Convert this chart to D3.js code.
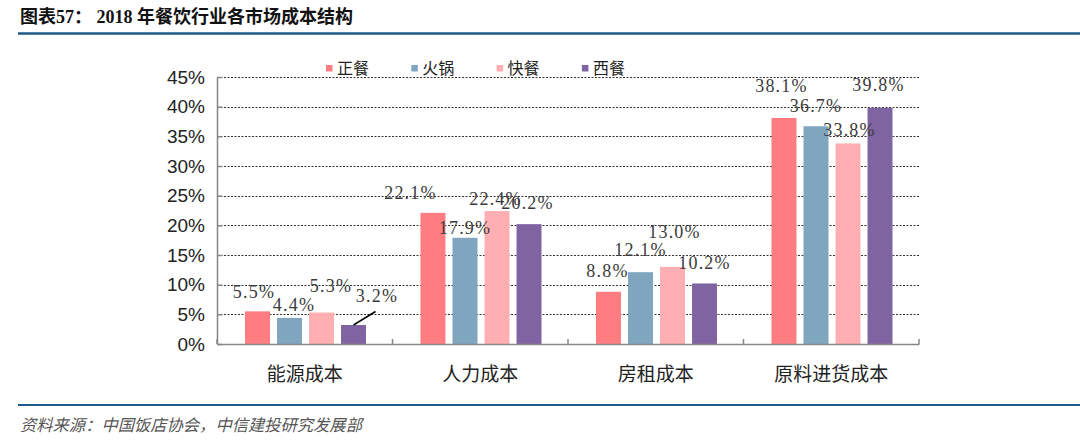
<!DOCTYPE html>
<html><head><meta charset="utf-8">
<script src="https://cdn.jsdelivr.net/npm/d3@7"></script>
<style>body{margin:0;background:#fff}svg{display:block}</style>
</head><body>
<svg id="c" width="1080" height="447"></svg>
<script>
const categories = ["能源成本", "人力成本", "房租成本", "原料进货成本"];
const seriesNames = ["正餐", "火锅", "快餐", "西餐"];
const valZhengcan = [5.5, 22.1, 8.8, 38.1];
const valHuoguo = [4.4, 17.9, 12.1, 36.7];
const valKuaican = [5.3, 22.4, 13.0, 33.8];
const valXican = [3.2, 20.2, 10.2, 39.8];
const yTicks = [0, 5, 10, 15, 20, 25, 30, 35, 40, 45];
const colors = ["#FF7C80", "#7FA5BF", "#FFAFB1", "#8064A2"];
// label offsets [dx, dy] relative to bar top centre (manual placements in the original)
const labelOffsets = [
  [[-3.5,-20],[-22.5,-20],[-1,-21],[-2.5,-32]],
  [[4.5,-13],[0,-10],[0,-23],[0,-21]],
  [[9.5,-27.5],[-1.5,-13],[2,-35],[1.5,-13.5]],
  [[23.5,-29],[-1.5,-22],[0,-21],[-1.5,-23]]
];
const seriesVals = [valZhengcan, valHuoguo, valKuaican, valXican];

const svg = d3.select("#c");
const L = 217, R = 919, T = 77, B = 344;

// title
svg.append("text").attr("x", 20).attr("y", 23)
  .attr("font-family", "'Liberation Serif','Noto Sans CJK SC',serif")
  .attr("font-weight", 700).attr("font-size", 18).attr("fill", "#111")
  .text("图表57： 2018 年餐饮行业各市场成本结构");
svg.append("line").attr("x1", 18).attr("x2", 1080).attr("y1", 33.5).attr("y2", 33.5)
  .attr("stroke", "#1F5A89").attr("stroke-width", 2.5);
svg.append("line").attr("x1", 18).attr("x2", 1080).attr("y1", 405).attr("y2", 405)
  .attr("stroke", "#1F5A89").attr("stroke-width", 2);
svg.append("text").attr("x", 20).attr("y", 431)
  .attr("font-family", "'Noto Sans CJK SC',sans-serif").attr("font-style", "italic")
  .attr("font-size", 16.3).attr("fill", "#555")
  .text("资料来源：中国饭店协会，中信建投研究发展部");

const x0 = d3.scaleBand().domain(categories).range([L, R]).padding(0);
const x1 = d3.scaleBand().domain(seriesNames).range([28, 149]).paddingInner(0.22).paddingOuter(0);
const y = d3.scaleLinear().domain([0, 45]).range([B, T]);

// gridlines
svg.append("g").selectAll("line").data(yTicks.filter(d => d > 0)).join("line")
  .attr("x1", L).attr("x2", R).attr("y1", d => Math.round(y(d)) + 0.5).attr("y2", d => Math.round(y(d)) + 0.5)
  .attr("stroke", "#333").attr("stroke-width", 1).attr("stroke-dasharray", "2,1.5");

// bars
const g = svg.append("g");
categories.forEach((c, ci) => {
  seriesNames.forEach((s, si) => {
    const v = seriesVals[si][ci];
    g.append("rect").attr("x", x0(c) + x1(s)).attr("y", y(v))
      .attr("width", x1.bandwidth()).attr("height", B - y(v))
      .attr("fill", colors[si]);
  });
});

// axes
const yAxis = d3.axisLeft(y).tickValues(yTicks).tickSizeInner(-5).tickSizeOuter(0).tickFormat(d => d + "%").tickPadding(12);
const ya = svg.append("g").attr("transform", `translate(${L},0)`).call(yAxis);
ya.select(".domain").attr("stroke", "#868686").attr("stroke-width", 1.5);
ya.selectAll(".tick line").attr("stroke", "#868686").attr("stroke-width", 1.5);
ya.selectAll(".tick text").attr("font-family", "'Liberation Sans',Arial,sans-serif").attr("font-size", 19).attr("fill", "#222");

const xAxis = d3.axisBottom(x0).tickSize(0).tickPadding(24);
const xa = svg.append("g").attr("transform", `translate(0,${B})`).call(xAxis);
xa.select(".domain").attr("stroke", "#868686").attr("stroke-width", 1.5);
xa.selectAll(".tick text").attr("font-family", "'Noto Sans CJK SC',sans-serif").attr("font-size", 19).attr("fill", "#222");
// category boundary ticks (inward)
svg.append("g").selectAll("line").data(categories.map(c => x0(c)).concat([R])).join("line")
  .attr("x1", d => d).attr("x2", d => d).attr("y1", B).attr("y2", B - 5)
  .attr("stroke", "#868686").attr("stroke-width", 1.5);

// data labels
categories.forEach((c, ci) => {
  seriesNames.forEach((s, si) => {
    const v = seriesVals[si][ci];
    const cx = x0(c) + x1(s) + x1.bandwidth() / 2;
    const off = labelOffsets[si][ci];
    svg.append("text").attr("x", cx + off[0]).attr("y", y(v) + off[1])
      .attr("dy", "0.36em").attr("text-anchor", "middle")
      .attr("font-family", "'Liberation Serif','Times New Roman',serif")
      .attr("font-size", 18).attr("letter-spacing", 1.2).attr("fill", "#3a3a3a")
      .text(v.toFixed(1) + "%");
  });
});
// leader line for 西餐 能源成本
{
  const c = categories[0], s = seriesNames[3], v = valXican[0];
  const cx = x0(c) + x1(s) + x1.bandwidth() / 2;
  svg.append("line").attr("x1", cx).attr("y1", y(v)).attr("x2", cx + 22).attr("y2", y(v) - 13.5)
    .attr("stroke", "#000").attr("stroke-width", 1.5);
}

// legend
const lg = svg.append("g");
seriesNames.forEach((s, i) => {
  const lx = 326 + i * 85.3;
  lg.append("rect").attr("x", lx).attr("y", 65).attr("width", 6.5).attr("height", 6.5).attr("fill", colors[i]);
  lg.append("text").attr("x", lx + 11).attr("y", 68.5).attr("dy", "0.36em")
    .attr("font-family", "'Noto Sans CJK SC',sans-serif").attr("font-size", 16).attr("fill", "#222").text(s);
});
</script>
</body></html>
